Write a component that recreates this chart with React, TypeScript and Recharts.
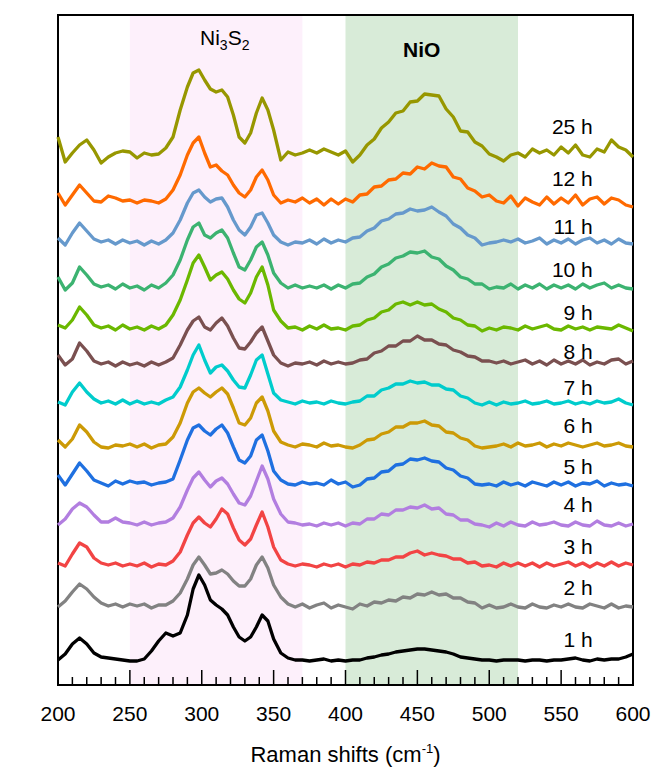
import React from 'react';
import {
  LineChart,
  Line,
  XAxis,
  YAxis,
  ReferenceArea,
  ReferenceDot,
} from 'recharts';

// Raman shift grid (cm-1), finer steps across the Ni3S2 peaks
const RAMAN_SHIFT = [
  200, 205, 210, 215, 220, 225, 230, 235, 240, 245, 250, 255, 260, 265, 270, 275, 280, 285, 290,
  294, 298, 302, 306, 310, 314, 318, 322, 326, 330, 334, 338, 342, 346,
  350, 355, 360, 365, 370, 375, 380, 385, 390, 395,
  400, 405, 410, 415, 420, 425, 430, 435, 440, 445,
  450, 455, 460, 465, 470, 475, 480, 485, 490, 495,
  500, 505, 510, 515, 520, 525, 530, 535, 540, 545,
  550, 555, 560, 565, 570, 575, 580, 585, 590, 595,
  600,
];

// stacked intensities (a.u.), one array per anodization time
const I_1H = [
  25, 31, 41, 47, 41, 32, 28, 27, 26, 25, 24, 24, 26, 34, 44, 52, 49, 52, 70,
  96, 110, 100, 85, 80, 76, 70, 58, 48, 44, 48, 58, 70, 64,
  46, 32, 27, 25, 25, 24, 25, 26, 24, 25,
  24, 25, 25, 27, 28, 30, 31, 33, 34, 35,
  36, 36, 35, 34, 33, 31, 28, 27, 26, 25,
  25, 24, 25, 25, 25, 24, 25, 25, 24, 25,
  25, 26, 27, 25, 24, 26, 25, 26, 26, 28,
  31,
];
const I_2H = [
  78, 84, 93, 101, 96, 88, 82, 79, 81, 78, 81, 79, 81, 77, 80, 80, 84, 92, 106,
  120, 128, 120, 111, 112, 115, 111, 104, 99, 99, 106, 120, 128, 117,
  100, 88, 81, 78, 81, 77, 80, 82, 77, 80,
  78, 76, 81, 79, 83, 82, 85, 84, 88, 87,
  91, 90, 93, 90, 91, 87, 87, 83, 82, 77,
  80, 77, 78, 81, 78, 77, 81, 78, 77, 80,
  78, 81, 78, 77, 81, 79, 77, 81, 77, 79,
  78,
];
const I_3H = [
  122, 119, 131, 142, 138, 127, 122, 120, 122, 119, 121, 119, 122, 118, 121, 120, 124, 133, 150,
  162, 168, 162, 158, 166, 176, 171, 157, 145, 140, 146, 160, 173, 158,
  138, 125, 121, 119, 121, 120, 118, 121, 119, 121,
  118, 121, 120, 123, 122, 125, 125, 128, 128, 132,
  134, 130, 132, 130, 129, 126, 126, 122, 123, 119,
  120, 118, 122, 119, 122, 119, 122, 118, 122, 119,
  121, 123, 119, 122, 118, 122, 119, 123, 119, 122,
  120,
];
const I_4H = [
  160, 166, 176, 182, 178, 170, 163, 163, 167, 163, 162, 160, 163, 160, 162, 163, 167, 178, 195,
  207, 213, 205, 198, 204, 207, 201, 191, 182, 180, 189, 204, 219, 206,
  186, 171, 163, 162, 160, 161, 159, 162, 160, 162,
  159, 162, 161, 166, 166, 171, 170, 175, 175, 178,
  177, 180, 176, 177, 171, 170, 165, 165, 161, 160,
  158, 162, 159, 163, 160, 159, 163, 160, 161, 163,
  160, 159, 163, 160, 159, 164, 160, 159, 162, 159,
  161,
];
const I_5H = [
  210, 200, 211, 222, 214, 205, 202, 199, 204, 201, 204, 202, 203, 200, 202, 203, 206, 225, 245,
  257, 260, 254, 250, 256, 260, 252, 238, 225, 222, 229, 245, 250, 234,
  214, 205, 201, 200, 203, 201, 202, 200, 205, 201,
  203, 198, 200, 206, 207, 213, 214, 220, 221, 226,
  225, 227, 224, 223, 217, 215, 209, 207, 201, 200,
  201, 199, 203, 200, 202, 199, 203, 201, 199, 203,
  200, 203, 199, 202, 201, 204, 199, 202, 200, 201,
  199,
];
const I_6H = [
  245, 238, 246, 260, 253, 243, 238, 237, 240, 239, 241, 238, 241, 237, 240, 241, 248, 262, 282,
  293, 297, 292, 288, 293, 297, 291, 277, 262, 260, 267, 282, 288, 274,
  254, 243, 240, 238, 241, 240, 238, 242, 239, 240,
  238, 237, 240, 245, 246, 251, 253, 258, 258, 262,
  262, 264, 260, 259, 253, 252, 247, 245, 239, 237,
  238, 239, 241, 238, 242, 239, 240, 242, 238, 241,
  239, 242, 240, 238, 240, 242, 239, 240, 242, 239,
  238,
];
const I_7H = [
  283, 280, 293, 302, 293, 286, 282, 284, 281, 285, 281, 284, 281, 283, 281, 285, 288, 298, 315,
  330, 340, 325, 312, 318, 320, 314, 305, 298, 297, 310, 325, 330, 311,
  292, 285, 283, 281, 284, 282, 283, 281, 284, 282,
  281, 283, 284, 289, 289, 295, 297, 301, 301, 304,
  302, 303, 300, 300, 296, 295, 289, 287, 282, 280,
  283, 280, 283, 281, 282, 284, 281, 282, 284, 281,
  282, 284, 281, 283, 281, 284, 282, 283, 286, 282,
  280,
];
const I_8H = [
  330, 320, 326, 342, 334, 324, 321, 323, 319, 323, 320, 322, 319, 323, 320, 323, 327, 340, 355,
  364, 368, 358, 355, 362, 367, 359, 347, 337, 336, 343, 352, 358, 344,
  330, 322, 319, 322, 321, 323, 320, 324, 321, 323,
  321, 322, 325, 326, 332, 334, 339, 339, 344, 344,
  349, 345, 345, 341, 340, 335, 333, 329, 328, 324,
  324, 322, 324, 321, 323, 325, 321, 324, 320, 325,
  321, 324, 321, 325, 320, 323, 321, 325, 326, 321,
  324,
];
const I_9H = [
  360, 357, 365, 378, 370, 360, 357, 359, 355, 360, 356, 358, 355, 359, 356, 360, 370, 385, 405,
  422, 430, 418, 405, 410, 413, 406, 395, 386, 382, 392, 408, 418, 400,
  375, 364, 357, 358, 355, 359, 356, 360, 356, 357,
  355, 359, 360, 365, 367, 373, 375, 381, 383, 380,
  383, 380, 381, 376, 373, 367, 365, 360, 359, 354,
  357, 355, 358, 357, 355, 359, 356, 358, 360, 356,
  355, 359, 356, 358, 355, 358, 357, 356, 360, 357,
  354,
];
const I_10H = [
  408, 395, 402, 418, 410, 401, 398, 400, 396, 401, 397, 399, 395, 400, 397, 402, 410, 425, 445,
  458, 462, 450, 447, 452, 455, 447, 432, 418, 415, 425, 438, 443, 430,
  412, 402, 397, 400, 397, 399, 397, 400, 396, 400,
  397, 401, 402, 408, 411, 418, 421, 427, 429, 433,
  432, 434, 428, 426, 419, 415, 408, 406, 401, 401,
  396, 398, 397, 401, 396, 400, 397, 401, 396, 400,
  397, 400, 396, 401, 397, 400, 402, 397, 400, 397,
  396,
];
const I_11H = [
  447, 440, 452, 462, 454, 446, 443, 445, 441, 445, 442, 444, 440, 444, 441, 445, 452, 465, 482,
  492, 495, 488, 483, 486, 487, 478, 465, 455, 450, 458, 470, 472, 462,
  450, 443, 440, 443, 442, 445, 441, 446, 442, 445,
  443, 447, 448, 454, 457, 464, 466, 471, 472, 476,
  474, 475, 478, 473, 469, 461, 457, 450, 447, 440,
  442, 443, 445, 443, 446, 442, 444, 447, 441, 445,
  442, 446, 441, 445, 447, 442, 445, 441, 446, 442,
  441,
];
const I_12H = [
  492, 480, 490, 500, 492, 484, 483, 489, 487, 484, 485, 482, 485, 484, 482, 486, 495, 510, 530,
  542, 548, 532, 518, 520, 514, 510, 500, 492, 488, 495, 508, 515, 505,
  490, 482, 485, 483, 487, 482, 486, 480, 486, 481,
  486, 483, 490, 491, 498, 499, 505, 506, 512, 511,
  518, 516, 522, 519, 518, 508, 506, 497, 494, 488,
  490, 484, 482, 489, 479, 487, 483, 480, 488, 481,
  487, 482, 490, 480, 486, 488, 481, 487, 485, 480,
  478,
];
const I_25H = [
  548, 523, 532, 540, 545, 535, 522, 528, 532, 534, 533, 527, 532, 530, 531, 537, 548, 575, 598,
  612, 615, 605, 596, 593, 595, 588, 570, 548, 542, 552, 572, 587, 575,
  555, 525, 533, 530, 532, 535, 532, 536, 533, 530,
  534, 523, 530, 540, 546, 557, 563, 572, 574, 583,
  584, 591, 590, 589, 576, 568, 554, 553, 543, 539,
  531, 528, 524, 530, 532, 528, 536, 532, 535, 530,
  538, 532, 540, 530, 528, 536, 533, 545, 538, 535,
  528,
];

const HOURS = ['25 h', '12 h', '11 h', '10 h', '9 h', '8 h', '7 h', '6 h', '5 h', '4 h', '3 h', '2 h', '1 h'];
const INTENSITIES = [I_25H, I_12H, I_11H, I_10H, I_9H, I_8H, I_7H, I_6H, I_5H, I_4H, I_3H, I_2H, I_1H];
const COLORS = [
  '#979700', '#ff6a00', '#6699cc', '#3cb371', '#6bb800', '#7a5050', '#00cccc',
  '#cc9a06', '#1f70e0', '#b27ee0', '#f24444', '#828282', '#000000',
];
// label anchors (a.u.) for the time tags on the right
const LABEL_Y = [558, 506, 458, 415, 372, 333, 297, 259, 218, 180, 138, 97, 45];

const MAJOR_TICKS = [200, 250, 300, 350, 400, 450, 500, 550, 600];
const MINOR_TICKS = [
  210, 220, 230, 240, 260, 270, 280, 290, 310, 320, 330, 340, 360, 370, 380, 390,
  410, 420, 430, 440, 460, 470, 480, 490, 510, 520, 530, 540, 560, 570, 580, 590,
];
const ALL_TICKS = [...MAJOR_TICKS, ...MINOR_TICKS].sort((a, b) => a - b);

const FONT = '"Liberation Sans", Arial, sans-serif';

const data = RAMAN_SHIFT.map((x, i) => {
  const row: Record<string, number> = { x };
  HOURS.forEach((h, k) => {
    row[h] = INTENSITIES[k][i];
  });
  return row;
});

const AxisTick = (props: any) => {
  const { x, y, payload } = props;
  const major = MAJOR_TICKS.includes(payload.value);
  return (
    <g>
      <line x1={x} x2={x} y1={y} y2={y - (major ? 15 : 8)} stroke="#000" strokeWidth={1.5} />
      {major && (
        <text x={x} y={y + 28} textAnchor="middle" dominantBaseline="central" fontSize={21} fontFamily={FONT} fill="#000">
          {payload.value}
        </text>
      )}
    </g>
  );
};

const XTitle = (props: any) => {
  const vb = props.viewBox || { x: 58, y: 685, width: 575 };
  return (
    <text x={vb.x + vb.width / 2} y={vb.y + 77} textAnchor="middle" fontSize={22} fontFamily={FONT} fill="#000">
      Raman shifts (cm
      <tspan fontSize={13} dy={-9}>-1</tspan>
      <tspan dy={9}>)</tspan>
    </text>
  );
};

const YTitle = (props: any) => {
  const vb = props.viewBox || { x: 58, y: 15, height: 670 };
  const cx = vb.x - 35;
  const cy = 362;
  return (
    <text
      x={cx}
      y={cy}
      transform={`rotate(-90, ${cx}, ${cy})`}
      textAnchor="middle"
      dominantBaseline="central"
      fontSize={24}
      fontFamily={FONT}
      fill="#000"
    >
      Intensity (a.u.)
    </text>
  );
};

const Ni3S2Label = (props: any) => {
  const { x, y } = props.viewBox;
  return (
    <text x={x} y={y} textAnchor="middle" fontSize={21} fontFamily={FONT} fill="#000">
      Ni
      <tspan fontSize={14} dy={5}>3</tspan>
      <tspan dy={-5}>S</tspan>
      <tspan fontSize={14} dy={5}>2</tspan>
    </text>
  );
};

const NiOLabel = (props: any) => {
  const { x, y } = props.viewBox;
  return (
    <text x={x} y={y} textAnchor="middle" fontSize={21} fontWeight="bold" fontFamily={FONT} fill="#000">
      NiO
    </text>
  );
};

export default function App() {
  return (
    <div style={{ position: 'absolute', left: 0, top: 0, background: '#fff' }}>
      <LineChart
        width={653}
        height={768}
        data={data}
        margin={{ top: 15, right: 20, bottom: 23, left: 58 }}
        style={{ fontFamily: FONT }}
      >
        <ReferenceArea x1={250} x2={370} y1={0} y2={670} fill="#fdf0fb" fillOpacity={1} stroke="none" />
        <ReferenceArea x1={400} x2={520} y1={0} y2={670} fill="#d8ebd8" fillOpacity={1} stroke="none" />
        <XAxis
          dataKey="x"
          type="number"
          domain={[200, 600]}
          ticks={ALL_TICKS}
          interval={0}
          tick={AxisTick}
          tickLine={false}
          tickSize={0}
          tickMargin={0}
          axisLine={false}
          height={60}
          label={{ content: XTitle }}
        />
        <YAxis
          type="number"
          domain={[0, 670]}
          width={0}
          tick={false}
          tickLine={false}
          axisLine={false}
          label={{ content: YTitle }}
        />
        {HOURS.map((h, k) => (
          <Line
            key={h}
            type="linear"
            dataKey={h}
            stroke={COLORS[k]}
            strokeWidth={3.3}
            strokeLinejoin="round"
            dot={false}
            activeDot={false}
            isAnimationActive={false}
          />
        ))}
        {HOURS.map((h, k) => (
          <ReferenceDot
            key={`lbl-${h}`}
            x={572}
            y={LABEL_Y[k]}
            r={0}
            fill="none"
            stroke="none"
            label={{ value: h, position: 'left', offset: 0, fontSize: 21, fontFamily: FONT, fill: '#000' }}
          />
        ))}
        <ReferenceDot x={316} y={640} r={0} fill="none" stroke="none" label={{ content: Ni3S2Label }} />
        <ReferenceDot x={453} y={628} r={0} fill="none" stroke="none" label={{ content: NiOLabel }} />
        <ReferenceArea x1={200} x2={600} y1={0} y2={670} fill="none" stroke="#000" strokeWidth={2} />
      </LineChart>
    </div>
  );
}
